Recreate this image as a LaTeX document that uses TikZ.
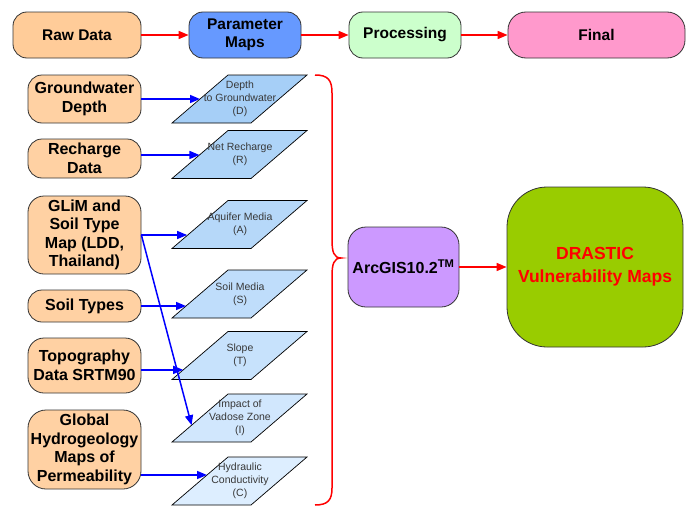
\documentclass[tikz,border=0pt]{standalone}
\usepackage{fontspec}
\setmainfont{Liberation Sans}
\usetikzlibrary{arrows.meta,calc}
\definecolor{rawc}{HTML}{FFCC99}
\definecolor{leftc}{HTML}{FFD1A3}
\definecolor{paramc}{HTML}{6699FF}
\definecolor{procc}{HTML}{CCFFCC}
\definecolor{finalc}{HTML}{FF99CC}
\definecolor{arcc}{HTML}{CC99FF}
\definecolor{drasc}{HTML}{99CC00}
\definecolor{pdark}{HTML}{A6CFF7}
\definecolor{plight}{HTML}{DDEEFF}
\definecolor{ptextc}{HTML}{383838}
\definecolor{edgec}{HTML}{333333}
\newcommand{\parashape}[4]{%
  \draw[parastyle, fill=#3] (172,#2+24) coordinate (#1bl) -- (251,#2+24) coordinate (#1br)
     -- (307,#2-24) coordinate (#1tr) -- (228,#2-24) coordinate (#1tl) -- cycle;
  \node[ptext] (#1) at (240,#2) {#4};}
\begin{document}
\begin{tikzpicture}[x=1pt,y=-1pt,
  topbox/.style={draw=edgec, line width=0.8pt, rounded corners=14pt, minimum height=46pt, inner sep=0pt, align=center, font=\bfseries\fontsize{15.5}{18.5}\selectfont},
  lbox/.style={draw=edgec, line width=0.8pt, fill=leftc, rounded corners=14pt, minimum width=113pt, inner sep=0pt, align=center, font=\bfseries\fontsize{16}{18.5}\selectfont},
  parastyle/.style={draw=black, line width=0.7pt},
  ptext/.style={align=center, text=ptextc, inner sep=0pt, font=\fontsize{10.5}{13}\selectfont},
  rarrow/.style={draw=red, line width=1.5pt, -{Triangle[length=10pt,width=8pt]}},
  barrow/.style={draw=blue, line width=1.5pt, -{Triangle[length=10pt,width=8pt]}}
]
\useasboundingbox (0,0) rectangle (691,506);
% top row
\node[topbox, fill=rawc, minimum width=128pt] (raw) at (77,35) {Raw Data};
\node[topbox, fill=paramc, minimum width=112pt] (param) at (245,35) {Parameter\\Maps};
\node[topbox, fill=procc, minimum width=112pt] (proc) at (405,35) {Processing};
\node[topbox, fill=finalc, minimum width=177pt, rounded corners=18pt] (final) at (596.5,35) {Final};
\draw[rarrow] (raw) -- (param);
\draw[rarrow] (param) -- (proc);
\draw[rarrow] (proc) -- (final);
% left boxes
\node[lbox, minimum height=48pt] (gw) at (84.5,99) {Groundwater\\Depth};
\node[lbox, minimum height=39pt] (rech) at (84.5,158.5) {Recharge\\Data};
\node[lbox, minimum height=78pt, rounded corners=16pt] (glim) at (84.5,235) {GLiM and\\Soil Type\\Map (LDD,\\Thailand)};
\node[lbox, minimum height=32pt] (soil) at (84.5,306) {Soil Types};
\node[lbox, minimum height=55pt, rounded corners=16pt] (topo) at (84.5,365.5) {Topography\\Data SRTM90};
\node[lbox, minimum height=79pt, rounded corners=18pt] (glob) at (84.5,449.5) {Global\\Hydrogeology\\Maps of\\Permeability};
% parallelograms
\parashape{pD}{99}{pdark}{Depth\\to Groundwater\\(D)}
\parashape{pR}{154.5}{pdark!85!plight}{Net Recharge\\(R)}
\parashape{pA}{224.5}{pdark!70!plight}{Aquifer Media\\(A)}
\parashape{pS}{294}{pdark!55!plight}{Soil Media\\(S)}
\parashape{pT}{355.5}{pdark!40!plight}{Slope\\(T)}
\parashape{pI}{418}{pdark!22!plight}{Impact of\\Vadose Zone\\(I)}
\parashape{pC}{481}{plight}{Hydraulic\\Conductivity\\(C)}
% arrow tips on left edges
\coordinate (tD) at ($(pDbl)!0.5!(pDtl)$);
\coordinate (tR) at ($(pRbl)!0.49!(pRtl)$);
\coordinate (tA) at ($(pAbl)!0.27!(pAtl)$);
\coordinate (tS) at ($(pSbl)!0.25!(pStl)$);
\coordinate (tT) at ($(pTbl)!0.2!(pTtl)$);
\coordinate (tI) at ($(pIbl)!0.35!(pItl)$);
\coordinate (tC) at ($(pCbl)!0.625!(pCtl)$);
\draw[barrow] (gw.east |- tD) -- (tD);
\draw[barrow] (rech.east |- tR) -- (tR);
\draw[barrow] (glim.east) -- (glim.east -| tA);
\draw[barrow] (glim.east) -- (tI);
\draw[barrow] (soil.east |- tS) -- (tS);
\draw[barrow] (topo.east |- tT) -- (tT);
\draw[barrow] (glob.east |- tC) -- (tC);
% brace
\draw[red, line width=1.5pt] (315,75) .. controls (328,75) and (332,80) .. (332,93) -- (332,240)
  .. controls (332,252) and (334,258) .. (341,258)
  .. controls (334,258) and (332,264) .. (332,276) -- (332,488)
  .. controls (332,500) and (328,505) .. (315,505);
% right part
\node[draw=edgec, line width=0.8pt, fill=arcc, rounded corners=18pt, minimum width=111pt, minimum height=80pt, inner sep=0pt, font=\bfseries\fontsize{16}{18}\selectfont] (arc) at (403.5,267) {ArcGIS10.2\textsuperscript{TM}};
\node[draw=edgec, line width=0.8pt, fill=drasc, rounded corners=40pt, minimum width=176pt, minimum height=160pt, inner sep=0pt, align=center, text=red, font=\bfseries\fontsize{17.5}{23}\selectfont] (dras) at (595,267) {DRASTIC\\Vulnerability Maps};
\draw[rarrow] (arc) -- (dras);
\end{tikzpicture}
\end{document}
